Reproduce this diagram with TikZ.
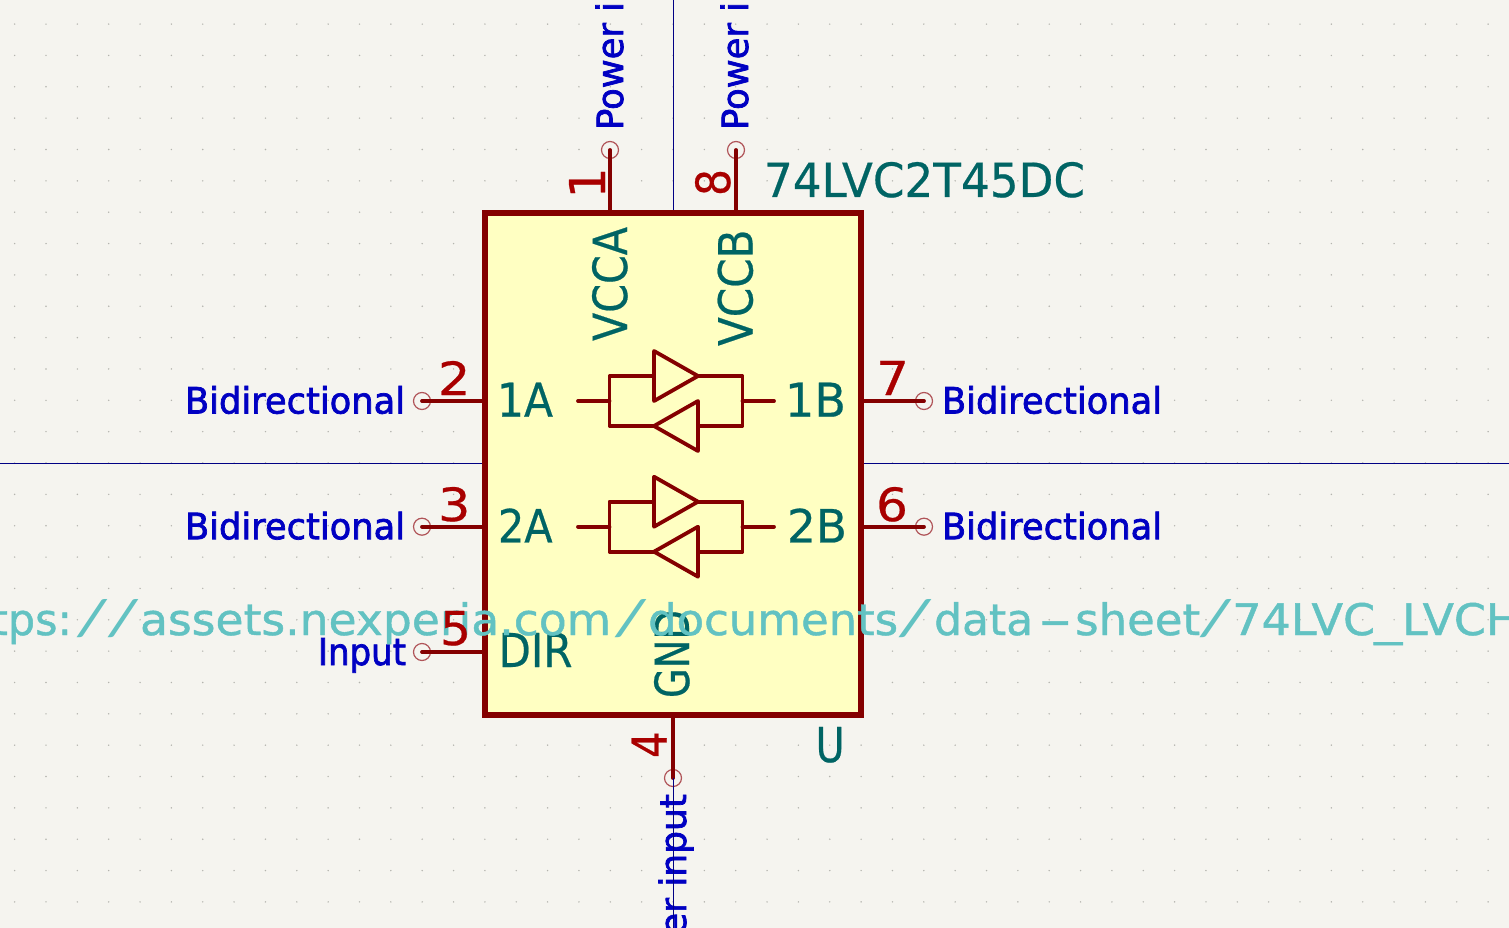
\documentclass[tikz,border=0pt]{standalone}
\usepackage{graphicx}
\usepackage{fontspec}
\setmainfont{DejaVu Sans}
\newfontfamily\typefont{DejaVu Sans}[FakeBold=2]
\newfontfamily\namefont{DejaVu Sans}[FakeBold=0.5]
\newfontfamily\urlfont{DejaVu Sans}[FakeBold=1]
\newfontfamily\slashfont{Carlito}
\usetikzlibrary{calc}
\definecolor{sheetbg}{HTML}{F5F4EF}
\definecolor{griddot}{HTML}{B4B4AE}
\definecolor{bodyfill}{HTML}{FFFFC2}
\definecolor{symbolred}{HTML}{840000}
\definecolor{pinnumred}{HTML}{A90000}
\definecolor{pinring}{HTML}{B05458}
\definecolor{nameteal}{HTML}{006464}
\definecolor{typeblue}{HTML}{0000C2}
\definecolor{urlcyan}{HTML}{62C2C2}
\definecolor{axisnavy}{HTML}{000084}
\newcommand{\fitlabel}[3]{\resizebox{#1pt}{#2pt}{#3}}
\newcommand{\urlpart}[3]{\resizebox{#1pt}{33pt}{\vphantom{d}#2}\hspace{#3pt}}
\newcommand{\urlslash}[3]{\resizebox{#1pt}{36pt}{\slashfont\vphantom{d}#2}\hspace{#3pt}}
\tikzset{
  lbl/.style={inner sep=0pt, outer sep=0pt, anchor=base west},
  pinnum/.style={lbl, text=pinnumred, font=\namefont},
  pinname/.style={lbl, text=nameteal, font=\namefont},
  pintype/.style={lbl, text=typeblue, font=\typefont},
  pinend/.style={circle, draw=pinring, line width=1.2pt, minimum size=17pt, inner sep=0pt, outer sep=0pt},
  pinline/.style={symbolred, line width=3.8pt, line cap=round},
  bufline/.style={symbolred, line width=3.8pt, line cap=round, line join=round},
  axisline/.style={axisnavy, line width=1pt}
}
\begin{document}
\begin{tikzpicture}[x=1pt, y=-1pt]
    \useasboundingbox (0,0) rectangle (1509,928);
    \clip (0,0) rectangle (1509,928);
    \fill [sheetbg] (0,0) rectangle (1509,928);

    % Grid
    \foreach \i in {-21,...,26}
        \foreach \j in {-14,...,14}
            \fill [griddot] ({673+\i*31.35},{463+\j*31.35}) circle (0.8);

    % Pin ends
    \node [pinend] (pinA) at (422,401) {};
    \node [pinend] (pinB) at (422,526.7) {};
    \node [pinend] (pinC) at (422,652) {};
    \node [pinend] (pinD) at (924,401) {};
    \node [pinend] (pinE) at (924,526.7) {};
    \node [pinend] (pinF) at (610,150) {};
    \node [pinend] (pinG) at (736,150) {};
    \node [pinend] (pinH) at (673,778) {};

    % Axes
    \coordinate (axisT) at (673,0);
    \coordinate (axisL) at (0,463);
    \coordinate (axisR) at (1509,463);
    \draw [axisline] (axisT) -- (673,213);
    \draw [axisline] (axisL) -- (485,463);
    \draw [axisline] (axisR) -- (861,463);

    % Body
    \node [draw=symbolred, fill=bodyfill, line width=5.4pt, minimum width=376pt, minimum height=502pt, inner sep=0pt, outer sep=0pt] (body) at (673,464) {};

    % Pins
    \draw [pinline] (pinA.center) -- (pinA.center -| body.west);
    \draw [pinline] (pinB.center) -- (pinB.center -| body.west);
    \draw [pinline] (pinC.center) -- (pinC.center -| body.west);
    \draw [pinline] (pinD.center) -- (pinD.center -| body.east);
    \draw [pinline] (pinE.center) -- (pinE.center -| body.east);
    \draw [pinline] (pinF.center) -- (pinF.center |- body.north);
    \draw [pinline] (pinG.center) -- (pinG.center |- body.north);
    \draw [pinline] (pinH.center) -- (pinH.center |- body.south);

    % Buffers
    \foreach \row in {0,125.7} {
        \draw [bufline] (578,{401+\row}) -- (609.5,{401+\row});
        \draw [bufline] (742.5,{401+\row}) -- (774,{401+\row});
        \draw [bufline] (654,{351+\row}) -- (654,{401+\row}) -- (698,{376+\row}) -- cycle;
        \draw [bufline] (698,{401+\row}) -- (698,{451+\row}) -- (654,{426+\row}) -- cycle;
        \draw [bufline] (654,{376+\row}) -- (609.5,{376+\row}) -- (609.5,{426+\row}) -- (654,{426+\row});
        \draw [bufline] (698,{376+\row}) -- (742.5,{376+\row}) -- (742.5,{426+\row}) -- (698,{426+\row});
    }

    % Pin names
    \node [pinname] (name1A) at (497,416.7) {\fitlabel{56}{34}{1A}};
    \node [pinname] (name2A) at (498,542.4) {\fitlabel{54.6}{34}{2A}};
    \node [pinname] (name1B) at (785,416.7) {\fitlabel{61}{34}{1B}};
    \node [pinname] (name2B) at (787,542.4) {\fitlabel{60}{34}{2B}};
    \node [pinname] (nameDIR) at (498.5,667) {\fitlabel{74}{34}{DIR}};
    \node [pinname, rotate=90] (nameVA) at (627,341) {\fitlabel{114}{35}{VCCA}};
    \node [pinname, rotate=90] (nameVB) at (752.5,346) {\fitlabel{116.5}{35}{VCCB}};
    \node [pinname, rotate=90] (nameGND) at (689,698) {\fitlabel{88}{35}{GND}};

    % Footprint reference
    \node [pinname] (partval) at (764,197) {\fitlabel{321}{35}{74LVC2T45DC}};
    \node [pinname] (partref) at (815.6,762) {\fitlabel{29}{35}{U}};

    % Pin types
    \node [pintype] (typeA) at (185,413.5) {\fitlabel{220}{27.5}{Bidirectional}};
    \node [pintype] (typeB) at (185,539.2) {\fitlabel{220}{27.5}{Bidirectional}};
    \node [pintype] (typeC) at (318,665) {\fitlabel{88}{27}{Input}};
    \node [pintype] (typeD) at (942,413.5) {\fitlabel{220}{27.5}{Bidirectional}};
    \node [pintype] (typeE) at (942,539.2) {\fitlabel{220}{27.5}{Bidirectional}};
    \node [pintype, rotate=90] (typeF) at (623,130) {\fitlabel{128}{27.5}{Power i}};
    \node [pintype, rotate=90] (typeG) at (748,130) {\fitlabel{128}{27.5}{Power i}};
    \node [pintype, rotate=90, anchor=base east] (typeH) at (686,794) {\fitlabel{141}{27.5}{er input}};

    % Datasheet
    \node [lbl, text=urlcyan, font=\urlfont] (sheeturl) at (-9,635) {\urlpart{81}{tps:}{5}\urlslash{30}{/}{1}\urlslash{30}{/}{2}\urlpart{471}{assets.nexperia.com}{4}\urlslash{31}{/}{2}\urlpart{250}{documents}{1}\urlslash{32}{/}{3}\urlpart{99}{data}{5}\urlpart{34}{-}{3}\urlpart{125}{sheet}{0}\urlslash{31}{/}{1}\urlpart{143}{74LVC}{-1}\urlpart{28}{\_}{0}\urlpart{118}{LVCH}{0}};

    % Pin numbers
    \node [pinnum] (num2) at (438,395) {\fitlabel{32.4}{34}{2}};
    \node [pinnum] (num3) at (438,521) {\fitlabel{32.4}{34}{3}};
    \node [pinnum] (num5) at (440,645) {\fitlabel{31}{34}{5}};
    \node [pinnum] (num7) at (876,395) {\fitlabel{33}{34}{7}};
    \node [pinnum] (num6) at (876,521) {\fitlabel{32}{34}{6}};
    \node [pinnum, rotate=90] (num1) at (605,198.4) {\fitlabel{31}{36}{1}};
    \node [pinnum, rotate=90] (num8) at (730,196) {\fitlabel{27}{35}{8}};
    \node [pinnum, rotate=90] (num4) at (666.7,758) {\fitlabel{26.5}{35}{4}};

    % Lower axis runs over the label
    \coordinate (axisB) at (673,928);
    \draw [axisline] (axisB) -- (pinH.center);
\end{tikzpicture}
\end{document}
